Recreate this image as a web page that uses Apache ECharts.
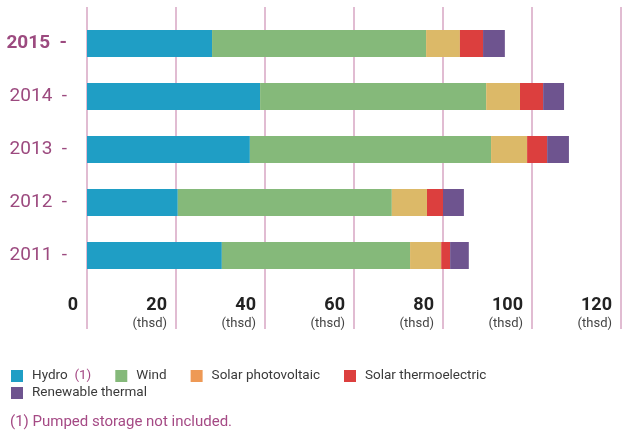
<!DOCTYPE html>
<html>
<head>
<meta charset="utf-8">
<script src="https://cdn.jsdelivr.net/npm/echarts@6/dist/echarts.min.js"></script>
<style>
html, body { margin: 0; padding: 0; background: #fff; }
#chart { width: 627px; height: 435px; }
</style>
</head>
<body>
<div id="chart"></div>
<script>
// years, bottom to top
var years = ['2011', '2012', '2013', '2014', '2015'];
// thousands
var hydro = [30.3, 20.4, 36.6, 38.9, 28.1];
var wind = [42.3, 48.1, 54.2, 50.8, 48.1];
var solarPV = [7.0, 7.9, 8.1, 7.6, 7.6];
var solarThermo = [2.0, 3.6, 4.5, 5.2, 5.2];
var renewThermal = [4.2, 4.7, 4.9, 4.7, 4.9];

var names = ['Hydro', 'Wind', 'Solar photovoltaic', 'Solar thermoelectric', 'Renewable thermal'];
var colors = ['#1f9ec5', '#85b97a', '#dcb968', '#dc3f3e', '#6e548f'];
var seriesData = [hydro, wind, solarPV, solarThermo, renewThermal];

var font = 'Roboto, "Noto Sans", sans-serif';
var chart = echarts.init(document.getElementById('chart'));

var series = names.map(function (n, i) {
    return {
        name: n,
        type: 'bar',
        stack: 'total',
        xAxisIndex: 0,
        yAxisIndex: 0,
        barWidth: 27,
        itemStyle: { color: colors[i] },
        data: seriesData[i]
    };
});

var legendBase = {
    left: 6,
    itemWidth: 12,
    itemHeight: 12,
    itemGap: 24,
    icon: 'rect',
    selectedMode: false,
    textStyle: {
        fontFamily: font, fontSize: 13.5, color: '#3a3a3a', padding: [0, 0, 0, 4],
        rich: { f: { fontFamily: font, fontSize: 13.5, color: '#a54a85' } }
    },
    formatter: function (name) {
        return name === 'Hydro' ? 'Hydro  {f|(1)}' : name;
    }
};

var option = {
    animation: false,
    title: {
        text: '(1) Pumped storage not included.',
        left: 5,
        top: 410,
        textStyle: { fontFamily: font, fontSize: 15, fontWeight: 'normal', color: '#a54a85' }
    },
    legend: [
        Object.assign({}, legendBase, {
            top: 364,
            data: [
                { name: 'Hydro' },
                { name: 'Wind' },
                { name: 'Solar photovoltaic', itemStyle: { color: '#ee9955' } },
                { name: 'Solar thermoelectric' }
            ]
        }),
        Object.assign({}, legendBase, {
            top: 381,
            data: [{ name: 'Renewable thermal' }]
        })
    ],
    grid: [
        { left: 87, right: 6, top: 17, bottom: 153 },
        { left: 87, right: 6, top: 7, bottom: 106 }
    ],
    xAxis: [{
        gridIndex: 0,
        type: 'value',
        min: 0,
        max: 120,
        interval: 20,
        axisLine: { show: false },
        axisTick: { show: false },
        splitLine: { show: false },
        axisLabel: {
            margin: 13,
            align: 'right',
            padding: [0, 9, 0, 0],
            formatter: function (v) {
                return v === 0 ? '{v|0}' : '{v|' + v + '}\n{u|(thsd)}';
            },
            rich: {
                v: { fontFamily: font, fontSize: 18, fontWeight: 'bold', color: '#222', lineHeight: 20, align: 'right' },
                u: { fontFamily: font, fontSize: 13, color: '#444', lineHeight: 18, align: 'right' }
            }
        }
    }, {
        gridIndex: 1,
        type: 'value',
        min: 0,
        max: 120,
        interval: 20,
        axisLine: { show: false },
        axisTick: { show: false },
        axisLabel: { show: false },
        splitLine: { show: true, lineStyle: { color: '#d7a6c3', width: 1.5 } }
    }],
    yAxis: [{
        gridIndex: 0,
        type: 'category',
        data: years,
        axisLine: { show: false },
        axisTick: { show: false },
        axisLabel: {
            margin: 20,
            formatter: function (v) {
                return v === '2015' ? '{b|' + v + '  -}' : '{r|' + v + '  -}';
            },
            rich: {
                b: { fontFamily: font, fontSize: 19, fontWeight: 'bold', color: '#9c4a7f' },
                r: { fontFamily: font, fontSize: 19, color: '#9c4a7f' }
            }
        }
    }, {
        gridIndex: 1,
        type: 'category',
        data: years,
        show: false
    }],
    series: series
};

chart.setOption(option);
</script>
</body>
</html>
